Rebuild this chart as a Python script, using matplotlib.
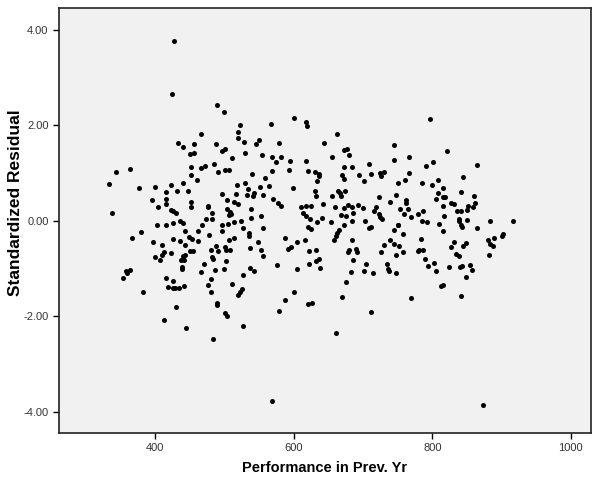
import matplotlib
matplotlib.use("Agg")
import matplotlib.pyplot as plt
from matplotlib.ticker import FormatStrFormatter

plt.rcParams['font.family'] = ['Liberation Sans', 'DejaVu Sans']

# Performance in previous year vs. standardized residual
perf = [
    427, 424, 333, 343, 363, 338, 377, 399, 395, 404, 415, 415, 415, 422, 431, 440, 447,
    433, 440, 456, 450, 456, 452, 452, 460, 451, 452, 423, 425, 430, 367, 379, 396, 403,
    415, 426, 436, 440, 443, 425, 436, 443, 448, 453, 462, 462, 409, 399, 407, 409, 413,
    423, 440, 437, 441, 443, 439, 438, 450, 454, 354, 358, 359, 363, 382, 415, 419, 425,
    426, 429, 434, 442, 430, 413, 445,
    489, 499, 466, 523, 520, 520, 528, 529, 487, 497, 501, 511, 550, 545, 554, 472, 466,
    485, 491, 501, 507, 540, 558, 518, 529, 534, 551, 564, 496, 516, 533, 543, 541, 555,
    504, 514, 519, 476, 476, 482, 473, 482, 504, 508, 510, 507, 538, 538, 552,
    524, 468, 497, 505, 514, 527, 556, 477, 496, 506, 513, 480, 487, 491, 482, 484, 501,
    502, 508, 502, 535, 535, 537, 548, 553, 556, 471, 466, 486, 499, 537, 542, 527, 480,
    476, 480, 511, 525, 522, 519, 489, 489, 500, 504, 527, 483,
    567, 600, 618, 619, 663, 643, 579, 569, 575, 581, 594, 617, 655, 672, 677, 679, 568,
    593, 621, 631, 636, 636, 633, 672, 684, 670, 672, 599, 631, 632, 655, 664, 666, 668,
    674, 570, 577, 582, 611, 617, 625, 642, 660, 678, 672, 684, 614, 617, 624, 641, 668,
    676, 685,
    634, 653, 684, 673, 620, 625, 665, 663, 661, 658, 588, 604, 616, 592, 596, 622, 632,
    684, 680, 678, 576, 605, 622, 632, 636, 638, 686, 682, 675, 600, 587, 578, 621, 626,
    670, 661, 568,
    796, 745, 745, 766, 708, 791, 801, 694, 711, 725, 730, 726, 701, 767, 760, 751, 785,
    799, 808, 808, 747, 723, 739, 762, 762, 805, 693, 700, 718, 716, 723, 725, 727, 753,
    759, 765, 769, 780, 787,
    703, 785, 793, 810, 708, 712, 750, 751, 745, 758, 784, 739, 730, 744, 752, 690, 691,
    726, 748, 757, 779, 781, 787, 789, 794, 802, 806, 704, 701, 714, 735, 736, 738, 748,
    769, 711,
    821, 864, 845, 816, 841, 815, 818, 860, 827, 831, 861, 859, 815, 852, 850, 836, 841,
    817, 838,
    839, 850, 884, 917, 841, 843, 816, 864, 832, 827, 849, 845, 881, 889, 883, 888, 902,
    900, 834, 838, 882, 824, 840, 843, 854, 857, 848, 815, 812, 842, 873,
]
resid = [
    3.77, 2.66, 0.78, 1.03, 1.08, 0.17, 0.68, 0.71, 0.43, 0.28, 0.60, 0.45, 0.36, 0.75, 0.62, 0.80, 0.63,
    1.62, 1.55, 1.61, 1.39, 1.42, 1.13, 0.95, 0.85, 0.39, 0.29, 0.22, 0.20, 0.17, -0.36, -0.23, -0.45, -0.08,
    -0.09, -0.05, 0.00, -0.05, -0.21, -0.39, -0.42, -0.51, -0.33, -0.39, -0.22, -0.43, -0.50, -0.75, -0.83, -0.71, -0.66,
    -0.68, -0.74, -0.82, -0.81, -0.72, -0.96, -1.00, -0.64, -0.64, -1.19, -1.06, -1.10, -1.02, -1.48, -1.20, -1.39, -1.26,
    -1.41, -1.41, -1.41, -1.37, -1.81, -2.08, -2.25,
    2.42, 2.28, 1.81, 2.00, 1.87, 1.74, 1.65, 1.43, 1.60, 1.46, 1.51, 1.32, 1.70, 1.61, 1.38, 1.15, 1.10,
    1.18, 1.03, 1.07, 1.07, 0.99, 0.89, 0.75, 0.79, 0.67, 0.70, 0.73, 0.57, 0.56, 0.55, 0.59, 0.52, 0.55,
    0.43, 0.40, 0.36, 0.31, 0.28, 0.17, 0.04, 0.03, 0.25, 0.18, 0.15, 0.13, 0.25, 0.05, 0.10,
    -0.01, -0.08, -0.08, -0.06, -0.03, -0.15, -0.15, -0.29, -0.22, -0.40, -0.36, -0.62, -0.52, -0.64, -0.75, -0.79, -0.54,
    -0.60, -0.60, -0.84, -0.25, -0.32, -0.56, -0.45, -0.60, -0.73, -0.90, -1.07, -1.02, -1.01, -0.98, -1.05, -1.14, -1.21,
    -1.35, -1.49, -1.33, -1.42, -1.50, -1.55, -1.71, -1.76, -1.93, -2.00, -2.21, -2.48,
    2.02, 2.15, 2.07, 1.99, 1.81, 1.62, 1.62, 1.34, 1.24, 1.34, 1.26, 1.25, 1.33, 1.49, 1.50, 1.38, 1.05,
    1.07, 1.05, 1.03, 0.99, 0.94, 0.84, 1.12, 1.13, 0.97, 0.87, 0.68, 0.63, 0.53, 0.53, 0.63, 0.58, 0.51,
    0.62, 0.46, 0.38, 0.32, 0.29, 0.31, 0.31, 0.36, 0.29, 0.33, 0.26, 0.28, 0.17, 0.11, 0.03, 0.05, 0.12,
    0.11, 0.17,
    -0.03, -0.03, -0.01, -0.08, -0.12, -0.17, -0.19, -0.26, -0.31, -0.40, -0.36, -0.45, -0.40, -0.59, -0.55, -0.64, -0.60,
    -0.40, -0.61, -0.65, -0.93, -1.00, -0.90, -0.85, -0.79, -0.98, -0.83, -1.08, -1.27, -1.49, -1.66, -1.89, -1.74, -1.72,
    -1.60, -2.34, -3.77,
    2.13, 1.59, 1.28, 1.33, 1.20, 1.15, 1.23, 0.95, 0.99, 1.01, 1.02, 0.94, 0.83, 1.00, 0.86, 0.80, 0.80,
    0.74, 0.85, 0.59, 0.55, 0.50, 0.40, 0.43, 0.38, 0.45, 0.33, 0.26, 0.29, 0.20, 0.14, 0.07, 0.03, 0.24,
    0.15, 0.25, 0.08, 0.15, 0.20,
    -0.01, -0.01, -0.02, -0.06, -0.15, -0.12, -0.08, -0.09, -0.19, -0.28, -0.37, -0.40, -0.50, -0.49, -0.52, -0.58, -0.66,
    -0.66, -0.72, -0.65, -0.63, -0.61, -0.60, -0.79, -0.95, -0.89, -1.04, -0.90, -1.05, -1.09, -0.91, -1.01, -1.05, -1.10,
    -1.62, -1.90,
    1.47, 1.16, 0.91, 0.68, 0.60, 0.50, 0.50, 0.51, 0.38, 0.36, 0.38, 0.29, 0.31, 0.32, 0.22, 0.21, 0.20,
    0.10, 0.04,
    -0.01, 0.01, -0.01, -0.01, -0.09, -0.13, -0.22, -0.15, -0.44, -0.54, -0.47, -0.52, -0.40, -0.35, -0.48, -0.52, -0.28,
    -0.32, -0.70, -0.73, -0.71, -0.96, -0.97, -0.95, -0.93, -1.02, -1.18, -1.34, -1.37, -1.58, -3.86,
]

x_ticks = [400, 600, 800, 1000]
y_ticks = [-4, -2, 0, 2, 4]

fig = plt.figure(figsize=(5.93, 4.79), dpi=100)
ax = fig.add_axes([0.0995, 0.0967, 0.897, 0.886])
ax.set_facecolor('#f0f1f0')

ax.scatter(perf, resid, s=13, color='black', linewidths=0, zorder=3)

ax.set_xlim(261, 1029)
ax.set_ylim(-4.435, 4.45)
ax.set_xticks(x_ticks)
ax.set_yticks(y_ticks)
ax.yaxis.set_major_formatter(FormatStrFormatter('%.2f'))
ax.tick_params(axis='both', direction='out', length=4, width=1, labelsize=8,
               colors='black', labelcolor='#333333')

for s in ax.spines.values():
    s.set_linewidth(1.2)
    s.set_color('#222222')

ax.set_xlabel('Performance in Prev. Yr', fontsize=10.5, fontweight='bold', labelpad=6)
ax.set_ylabel('Standardized Residual', fontsize=12.5, fontweight='bold')
ax.yaxis.set_label_coords(-0.068, 0.541)

fig.savefig('out.png', dpi=100)
